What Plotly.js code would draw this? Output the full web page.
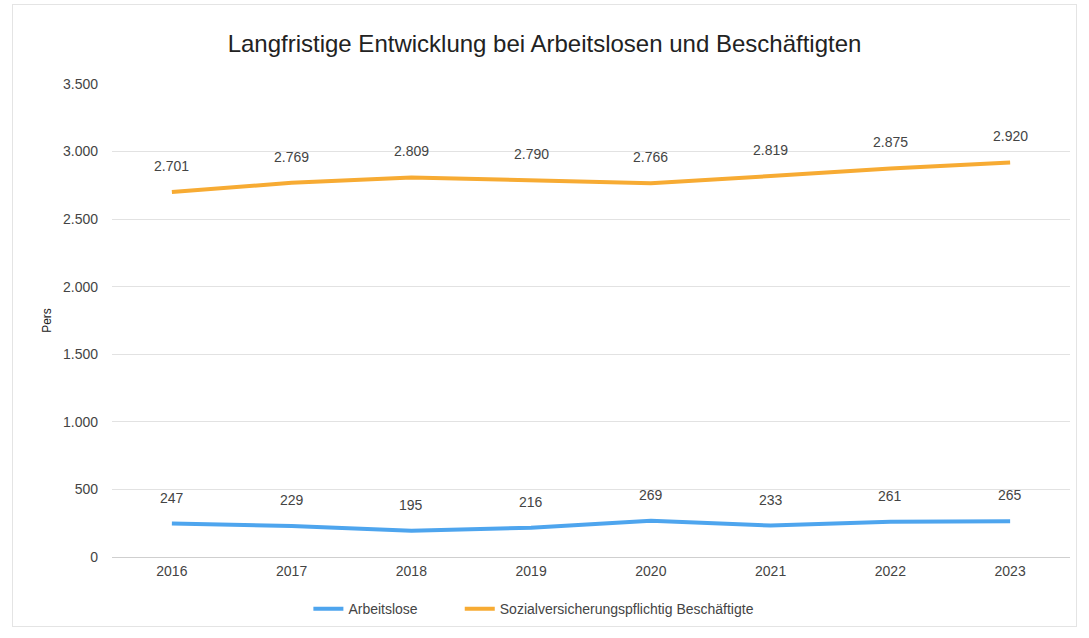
<!DOCTYPE html>
<html>
<head>
<meta charset="utf-8">
<script src="https://cdn.plot.ly/plotly-3.0.1.min.js"></script>
<style>
html,body{margin:0;padding:0;background:#fff;}
#frame{position:absolute;left:12px;top:4px;width:1065px;height:623px;border:1px solid #e4e4e4;box-sizing:border-box;}
#chart{position:absolute;left:0;top:0;width:1089px;height:638px;}
</style>
</head>
<body>
<div id="frame"></div>
<div id="chart"></div>
<script>
const years = ['2016','2017','2018','2019','2020','2021','2022','2023'];
const arbeitslose = [247, 229, 195, 216, 269, 233, 261, 265];
const beschaeftigte = [2701, 2769, 2809, 2790, 2766, 2819, 2875, 2920];
const seriesNames = ['Arbeitslose', 'Sozialversicherungspflichtig Beschäftigte'];
const yTicks = [0, 500, 1000, 1500, 2000, 2500, 3000, 3500];

const fmt = v => v.toLocaleString('de-DE');

const traces = [
  {x: years, y: arbeitslose, name: seriesNames[0], type: 'scatter', mode: 'lines',
   line: {color: '#4EA5EE', width: 4}, legend: 'legend'},
  {x: years, y: beschaeftigte, name: seriesNames[1], type: 'scatter', mode: 'lines',
   line: {color: '#F7AB33', width: 4}, legend: 'legend2'}
];

const annotations = [];
[arbeitslose, beschaeftigte].forEach(arr => {
  arr.forEach((v, i) => {
    annotations.push({x: i, y: v, xref: 'x', yref: 'y', text: fmt(v),
      showarrow: false, yshift: 26, font: {size: 14, color: '#444'}});
  });
});

const legendBase = {orientation: 'h', xanchor: 'left', y: -0.11, yanchor: 'middle',
  font: {size: 14, color: '#444'}, bgcolor: 'rgba(0,0,0,0)'};

const layout = {
  width: 1089, height: 638,
  paper_bgcolor: 'rgba(0,0,0,0)', plot_bgcolor: 'rgba(0,0,0,0)',
  separators: ',.',
  font: {family: 'Liberation Sans, Arial, sans-serif', color: '#444', size: 12},
  title: {text: 'Langfristige Entwicklung bei Arbeitslosen und Beschäftigten',
    font: {size: 24, color: '#222'}, x: 0.5, xanchor: 'center', y: 0.932, yanchor: 'middle'},
  margin: {l: 112, r: 19, t: 84, b: 81},
  xaxis: {type: 'category', categoryorder: 'array', categoryarray: years,
    range: [-0.5, years.length - 0.5], autorange: false,
    showgrid: false, zeroline: false, showline: false,
    ticks: '', ticklabelstandoff: 4, tickfont: {size: 14, color: '#444'}},
  yaxis: {range: [0, 3500], autorange: false, tickvals: yTicks, ticktext: yTicks.map(fmt),
    gridcolor: '#e2e2e2', gridwidth: 1, zeroline: true, zerolinecolor: '#cfcfcf', zerolinewidth: 1,
    showline: false, ticks: '', ticklabelstandoff: 13,
    tickfont: {size: 14, color: '#444'},
    title: {text: 'Pers', font: {size: 12, color: '#222'}, standoff: 8}},
  legend: Object.assign({}, legendBase, {x: 0.205}),
  legend2: Object.assign({}, legendBase, {x: 0.363}),
  annotations: annotations,
  showlegend: true
};

Plotly.newPlot('chart', traces, layout, {displayModeBar: false, staticPlot: true});
</script>
</body>
</html>
